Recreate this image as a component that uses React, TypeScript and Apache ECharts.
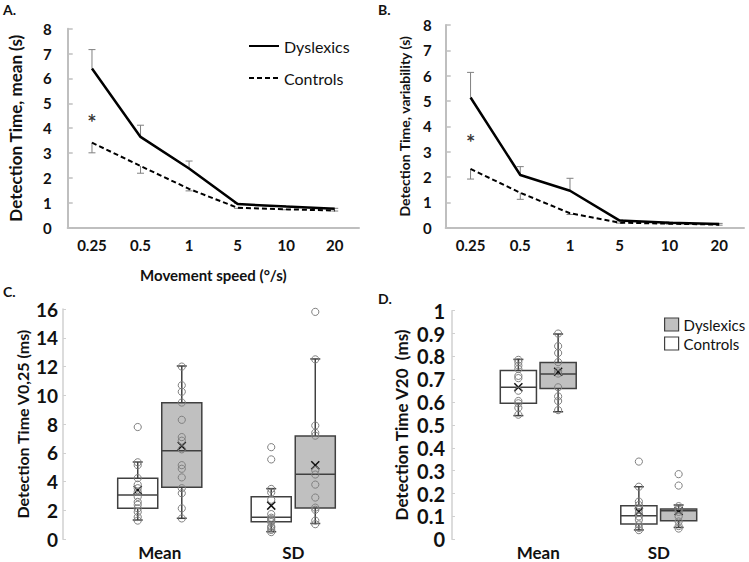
import React, { useEffect, useRef } from "react";
import * as echarts from "echarts";

// ---------- Data ----------
const speeds = ["0.25", "0.5", "1", "5", "10", "20"];
// Panel A: mean detection time (s)
const dysMean = [6.4, 3.65, 2.38, 0.95, 0.85, 0.76];
const dysMeanErr = [0.76, 0.47, 0.3, 0.03, 0.02, 0.02];
const ctrlMean = [3.42, 2.48, 1.56, 0.8, 0.74, 0.69];
const ctrlMeanErr = [0.41, 0.29, 0.08, 0.02, 0.02, 0.02];
const starA = [[0, 4.45]];
// Panel B: variability (s)
const dysVar = [5.14, 2.08, 1.46, 0.28, 0.2, 0.15];
const dysVarErr = [0.99, 0.33, 0.49, 0.03, 0.02, 0.02];
const ctrlVar = [2.32, 1.38, 0.57, 0.2, 0.16, 0.12];
const ctrlVarErr = [0.4, 0.26, 0.05, 0.02, 0.02, 0.02];
const starB = [[0, 3.55]];

const measures = ["Mean", "SD"];
// Box stats: [categoryIndex, min, Q1, median, Q3, max, mean]
const cCtrlBox = [
  [0, 1.34, 2.15, 3.08, 4.24, 5.37, 3.43],
  [1, 0.53, 1.22, 1.53, 2.96, 3.52, 2.34],
];
const cDysBox = [
  [0, 1.46, 3.61, 6.16, 9.49, 12.04, 6.48],
  [1, 1.1, 2.18, 4.52, 7.18, 12.53, 5.14],
];
const dCtrlBox = [
  [0, 0.541, 0.595, 0.665, 0.738, 0.787, 0.665],
  [1, 0.041, 0.067, 0.103, 0.147, 0.23, 0.121],
];
const dDysBox = [
  [0, 0.558, 0.66, 0.723, 0.773, 0.898, 0.733],
  [1, 0.052, 0.081, 0.125, 0.133, 0.15, 0.124],
];
// Individual points
const cCtrlMeanPts = [7.8, 5.35, 5.15, 4.25, 3.8, 3.55, 3.3, 2.95, 2.6, 2.4, 2.15, 1.9, 1.55, 1.3];
const cDysMeanPts = [12.0, 10.7, 10.25, 9.5, 8.3, 7.1, 6.85, 6.25, 5.15, 4.9, 4.3, 3.55, 3.2, 2.15, 1.45];
const cCtrlSdPts = [6.4, 5.55, 3.5, 3.25, 2.75, 1.75, 1.5, 1.4, 1.3, 1.2, 0.9, 0.8, 0.65, 0.5];
const cDysSdPts = [15.8, 12.5, 7.9, 7.4, 7.2, 4.8, 4.5, 3.8, 2.9, 2.2, 2.05, 1.3, 1.05];
const dCtrlMeanPts = [0.785, 0.775, 0.76, 0.745, 0.715, 0.705, 0.65, 0.605, 0.595, 0.575, 0.545];
const dDysMeanPts = [0.9, 0.845, 0.815, 0.775, 0.735, 0.725, 0.665, 0.625, 0.605, 0.565];
const dCtrlSdPts = [0.34, 0.23, 0.165, 0.15, 0.13, 0.115, 0.1, 0.085, 0.065, 0.05, 0.04];
const dDysSdPts = [0.285, 0.235, 0.145, 0.13, 0.12, 0.1, 0.078, 0.058, 0.047];

// ---------- Styling ----------
const FONT = "Lato";
const AXIS_GRAY = "#bfbfbf";
const BOX_STROKE = "#404040";
const DYS_FILL = "#c0c0c0";
const OFF = 0.165; // box offset from category centre (fraction of band)
const HW = 0.15; // half box width (fraction of band)

const errRender = (dir: number) => (params: any, api: any) => {
  const i = api.value(0);
  const v = api.value(1);
  const e = api.value(2);
  const p1 = api.coord([i, v]);
  const p2 = api.coord([i, v + dir * e]);
  const st = { stroke: "#808080", lineWidth: 1 };
  return {
    type: "group",
    children: [
      { type: "line", shape: { x1: p1[0], y1: p1[1], x2: p2[0], y2: p2[1] }, style: st },
      { type: "line", shape: { x1: p2[0] - 3.5, y1: p2[1], x2: p2[0] + 3.5, y2: p2[1] }, style: st },
    ],
  };
};

const boxRender = (side: number, fill: string) => (params: any, api: any) => {
  const c = api.value(0);
  const band = api.size([1, 0])[0];
  const cx = api.coord([c, 0])[0] + side * OFF * band;
  const hw = HW * band;
  const y = (k: number) => api.coord([c, api.value(k)])[1];
  const yMin = y(1), yQ1 = y(2), yMed = y(3), yQ3 = y(4), yMax = y(5), yMean = y(6);
  const st = { stroke: BOX_STROKE, lineWidth: 1.5 };
  const ln = (x1: number, y1: number, x2: number, y2: number) => ({
    type: "line",
    shape: { x1, y1, x2, y2 },
    style: st,
  });
  return {
    type: "group",
    children: [
      ln(cx, yMax, cx, yQ3),
      ln(cx, yQ1, cx, yMin),
      ln(cx - 5, yMax, cx + 5, yMax),
      ln(cx - 5, yMin, cx + 5, yMin),
      {
        type: "rect",
        shape: { x: cx - hw, y: yQ3, width: 2 * hw, height: yQ1 - yQ3 },
        style: { fill, stroke: BOX_STROKE, lineWidth: 1.5 },
      },
      ln(cx - hw, yMed, cx + hw, yMed),
      {
        type: "line",
        shape: { x1: cx - 4, y1: yMean - 4, x2: cx + 4, y2: yMean + 4 },
        style: { stroke: "#111", lineWidth: 1.5 },
        z2: 10,
      },
      {
        type: "line",
        shape: { x1: cx - 4, y1: yMean + 4, x2: cx + 4, y2: yMean - 4 },
        style: { stroke: "#111", lineWidth: 1.5 },
        z2: 10,
      },
    ],
  };
};

const ptRender = (side: number) => (params: any, api: any) => {
  const c = api.value(0);
  const band = api.size([1, 0])[0];
  const p = api.coord([c, api.value(1)]);
  return {
    type: "circle",
    shape: { cx: p[0] + side * OFF * band, cy: p[1], r: 3.6 },
    style: { fill: "transparent", stroke: "#808080", lineWidth: 1 },
  };
};

const pts = (idx: number, arr: number[]) => arr.map((v) => [idx, v]);
const withErr = (vals: number[], errs: number[]) => vals.map((v, i) => [i, v, errs[i]]);

function lineXAxis(gridIndex: number, name?: string) {
  return {
    type: "category",
    gridIndex,
    data: speeds,
    boundaryGap: true,
    axisLine: { lineStyle: { color: AXIS_GRAY, width: 2 } },
    axisTick: { inside: true, length: 5, lineStyle: { color: AXIS_GRAY, width: 1.5 } },
    axisLabel: { color: "#111", fontWeight: "bold", fontSize: 15, margin: 10, fontFamily: FONT },
    name,
    nameLocation: "middle",
    nameGap: 40,
    nameTextStyle: { color: "#111", fontWeight: "bold", fontSize: 15, fontFamily: FONT },
  };
}

function lineYAxis(gridIndex: number, name: string, nameGap: number, margin: number, nameSize: number) {
  return {
    type: "value",
    gridIndex,
    min: 0,
    max: 8,
    interval: 1,
    splitLine: { show: false },
    axisLine: { show: true, lineStyle: { color: AXIS_GRAY, width: 2 } },
    axisTick: { show: true, inside: true, length: 5, lineStyle: { color: AXIS_GRAY, width: 1.5 } },
    axisLabel: { color: "#111", fontWeight: "bold", fontSize: 15, margin, fontFamily: FONT },
    name,
    nameLocation: "middle",
    nameGap,
    nameTextStyle: { color: "#111", fontWeight: "bold", fontSize: nameSize, fontFamily: FONT },
  };
}

function boxXAxis(gridIndex: number) {
  return {
    type: "category",
    gridIndex,
    data: measures,
    boundaryGap: true,
    axisLine: { show: false },
    axisTick: { show: false },
    axisLabel: { color: "#111", fontWeight: "bold", fontSize: 17, margin: 5, fontFamily: FONT },
  };
}

function boxYAxis(
  gridIndex: number,
  max: number,
  interval: number,
  offset: number,
  name: string,
  nameGap: number,
  margin: number,
  labelSize: number,
  nameSize: number
) {
  return {
    type: "value",
    gridIndex,
    min: 0,
    max,
    interval,
    offset,
    splitLine: { show: false },
    axisLine: { show: true, lineStyle: { color: "#d0d0d0", width: 1.5 } },
    axisTick: { show: true, inside: true, length: 3, lineStyle: { color: "#d0d0d0" } },
    axisLabel: {
      color: "#111",
      fontWeight: "bold",
      fontSize: labelSize,
      margin,
      fontFamily: FONT,
      formatter: (v: number) => (interval < 1 ? (v === 0 || v === 1 ? String(v) : v.toFixed(1)) : String(v)),
    },
    name,
    nameLocation: "middle",
    nameGap,
    nameTextStyle: { color: "#111", fontWeight: "bold", fontSize: nameSize, fontFamily: FONT },
  };
}

const starSeries = (xi: number, data: number[][]) => ({
  type: "scatter",
  name: "sig" + xi,
  xAxisIndex: xi,
  yAxisIndex: xi,
  data,
  symbolSize: 1,
  itemStyle: { color: "transparent" },
  label: {
    show: true,
    formatter: "*",
    position: "inside",
    color: "#000",
    fontSize: 22,
    fontWeight: "bold",
    fontFamily: FONT,
    offset: [0, 5],
  },
  silent: true,
});

export default function App() {
  const ref = useRef<HTMLDivElement>(null);
  useEffect(() => {
    if (!ref.current) return;
    const chart = echarts.init(ref.current, undefined, { renderer: "svg" });
    const option: any = {
      animation: false,
      backgroundColor: "#ffffff",
      textStyle: { fontFamily: FONT },
      graphic: [
        { type: "text", left: 3, top: 2, style: { text: "A.", font: `bold 14px ${FONT}`, fill: "#111" } },
        { type: "text", left: 378, top: 2, style: { text: "B.", font: `bold 14px ${FONT}`, fill: "#111" } },
        { type: "text", left: 3, top: 284, style: { text: "C.", font: `bold 14px ${FONT}`, fill: "#111" } },
        { type: "text", left: 378, top: 291, style: { text: "D.", font: `bold 14px ${FONT}`, fill: "#111" } },
      ],
      legend: [
        {
          data: ["Dyslexics", "Controls"],
          orient: "vertical",
          left: 243,
          top: 33,
          itemWidth: 30,
          itemHeight: 14,
          itemGap: 16,
          itemStyle: { opacity: 0 },
          textStyle: { color: "#111", fontSize: 16, fontFamily: FONT },
          selectedMode: false,
        },
        {
          data: [
            { name: "Dyslexics box", icon: "rect", itemStyle: { color: DYS_FILL, borderColor: BOX_STROKE, borderWidth: 1.2 } },
            { name: "Controls box", icon: "rect", itemStyle: { color: "#ffffff", borderColor: BOX_STROKE, borderWidth: 1.2 } },
          ],
          orient: "vertical",
          left: 659,
          top: 312,
          itemWidth: 14,
          itemHeight: 13,
          itemGap: 4,
          formatter: (n: string) => n.replace(" box", ""),
          textStyle: { color: "#111", fontSize: 15, fontFamily: FONT },
          selectedMode: false,
        },
      ],
      grid: [
        { left: 67.7, top: 28.7, width: 291.3, height: 199, containLabel: false },
        { left: 445.7, top: 25, width: 298.3, height: 202.7, containLabel: false },
        { left: 93, top: 309, width: 267, height: 230.3, containLabel: false },
        { left: 478, top: 310.7, width: 241, height: 228.6, containLabel: false },
      ],
      xAxis: [
        lineXAxis(0, "Movement speed (°/s)"),
        lineXAxis(1),
        boxXAxis(2),
        boxXAxis(3),
      ],
      yAxis: [
        lineYAxis(0, "Detection Time, mean (s)", 44, 16, 17),
        lineYAxis(1, "Detection Time, variability (s)", 34, 14, 14),
        boxYAxis(2, 16, 2, 30, "Detection Time V0,25 (ms)", 33, 5, 19, 16),
        boxYAxis(3, 1, 0.1, 26, "Detection Time V20  (ms)", 42, 7, 20, 17),
      ],
      series: [
        // Panel A
        {
          type: "line", name: "Dyslexics", xAxisIndex: 0, yAxisIndex: 0, data: dysMean,
          symbol: "none", itemStyle: { color: "#000" }, lineStyle: { color: "#000", width: 2.5 }, z: 3,
        },
        {
          type: "line", name: "Controls", xAxisIndex: 0, yAxisIndex: 0, data: ctrlMean,
          symbol: "none", itemStyle: { color: "#000" }, lineStyle: { color: "#000", width: 2, type: [5, 3] }, z: 3,
        },
        { type: "custom", name: "errA1", xAxisIndex: 0, yAxisIndex: 0, data: withErr(dysMean, dysMeanErr), renderItem: errRender(1), z: 2 },
        { type: "custom", name: "errA2", xAxisIndex: 0, yAxisIndex: 0, data: withErr(ctrlMean, ctrlMeanErr), renderItem: errRender(-1), z: 2 },
        starSeries(0, starA),
        // Panel B
        {
          type: "line", name: "Dyslexics", xAxisIndex: 1, yAxisIndex: 1, data: dysVar,
          symbol: "none", itemStyle: { color: "#000" }, lineStyle: { color: "#000", width: 2.5 }, z: 3,
        },
        {
          type: "line", name: "Controls", xAxisIndex: 1, yAxisIndex: 1, data: ctrlVar,
          symbol: "none", itemStyle: { color: "#000" }, lineStyle: { color: "#000", width: 2, type: [5, 3] }, z: 3,
        },
        { type: "custom", name: "errB1", xAxisIndex: 1, yAxisIndex: 1, data: withErr(dysVar, dysVarErr), renderItem: errRender(1), z: 2 },
        { type: "custom", name: "errB2", xAxisIndex: 1, yAxisIndex: 1, data: withErr(ctrlVar, ctrlVarErr), renderItem: errRender(-1), z: 2 },
        starSeries(1, starB),
        // Panel C
        { type: "custom", name: "Controls box", xAxisIndex: 2, yAxisIndex: 2, data: cCtrlBox, renderItem: boxRender(-1, "#ffffff"), itemStyle: { color: "#ffffff" }, z: 2 },
        { type: "custom", name: "Dyslexics box", xAxisIndex: 2, yAxisIndex: 2, data: cDysBox, renderItem: boxRender(1, DYS_FILL), itemStyle: { color: DYS_FILL }, z: 2 },
        { type: "custom", name: "ptsC1", xAxisIndex: 2, yAxisIndex: 2, data: [...pts(0, cCtrlMeanPts), ...pts(1, cCtrlSdPts)], renderItem: ptRender(-1), z: 3 },
        { type: "custom", name: "ptsC2", xAxisIndex: 2, yAxisIndex: 2, data: [...pts(0, cDysMeanPts), ...pts(1, cDysSdPts)], renderItem: ptRender(1), z: 3 },
        // Panel D
        { type: "custom", name: "Controls box", xAxisIndex: 3, yAxisIndex: 3, data: dCtrlBox, renderItem: boxRender(-1, "#ffffff"), itemStyle: { color: "#ffffff" }, z: 2 },
        { type: "custom", name: "Dyslexics box", xAxisIndex: 3, yAxisIndex: 3, data: dDysBox, renderItem: boxRender(1, DYS_FILL), itemStyle: { color: DYS_FILL }, z: 2 },
        { type: "custom", name: "ptsD1", xAxisIndex: 3, yAxisIndex: 3, data: [...pts(0, dCtrlMeanPts), ...pts(1, dCtrlSdPts)], renderItem: ptRender(-1), z: 3 },
        { type: "custom", name: "ptsD2", xAxisIndex: 3, yAxisIndex: 3, data: [...pts(0, dDysMeanPts), ...pts(1, dDysSdPts)], renderItem: ptRender(1), z: 3 },
      ],
    };
    chart.setOption(option);
    return () => chart.dispose();
  }, []);
  return (
    <div
      ref={ref}
      style={{ position: "absolute", left: 0, top: 0, width: 749, height: 562, background: "#fff" }}
    />
  );
}
